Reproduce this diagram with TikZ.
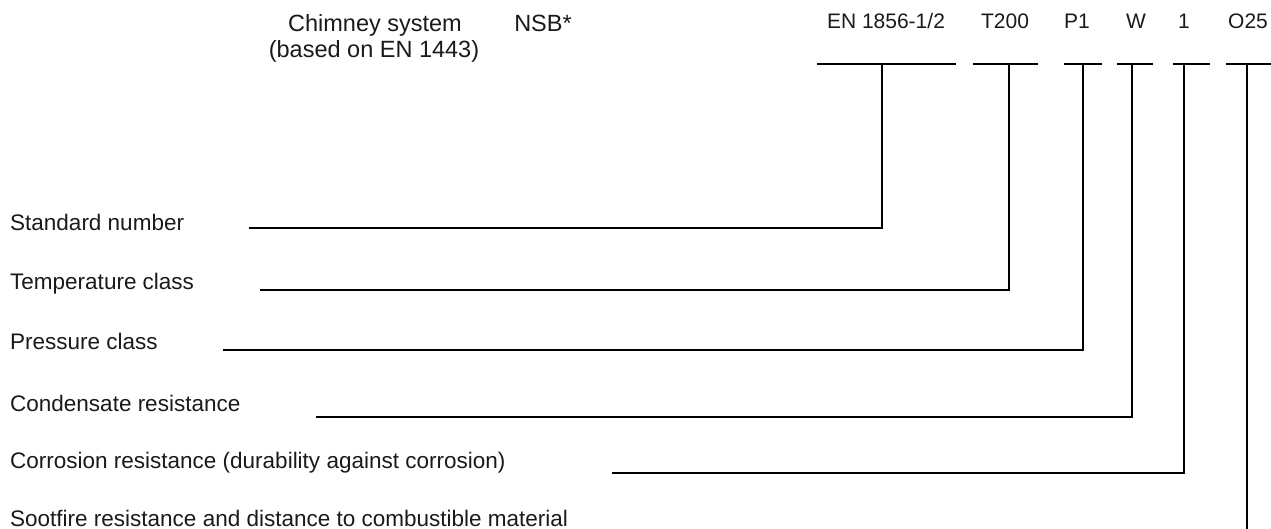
\documentclass[tikz,border=0pt]{standalone}
\usepackage{fontspec}
\setmainfont{Liberation Sans}
\definecolor{ink}{HTML}{1A1A1A}
\tikzset{
  lbl/.style={anchor=base west, inner sep=0pt, text=ink, font=\fontsize{22.5}{26}\selectfont},
  ttl/.style={anchor=base, inner sep=0pt, text=ink, font=\fontsize{23.5}{27}\selectfont},
  code/.style={anchor=base, inner sep=0pt, text=ink, font=\fontsize{21}{25}\selectfont},
  lead/.style={line width=1.8pt, draw=black, line join=miter}
}
\begin{document}
\begin{tikzpicture}[x=1pt,y=-1pt]
\useasboundingbox (0,0) rectangle (1271,529);
% title
\node[ttl] (chim1) at (375,32) {Chimney system};
\node[ttl] (chim2) at (374,58) {(based on EN 1443)};
\node[ttl] (nsb) at (543,32) {NSB*};
% codes
\node[code] (en) at (886,29) {EN 1856-1/2};
\node[code] (t) at (1005,29) {T200};
\node[code] (p) at (1077,29) {P1};
\node[code] (w) at (1136,29) {W};
\node[code] (one) at (1184,29) {1};
\node[code] (o) at (1248,29) {O25};
% bars
\draw[lead] (817,64) -- (956,64);
\draw[lead] (973,64) -- (1038,64);
\draw[lead] (1064,64) -- (1102,64);
\draw[lead] (1117,64) -- (1153,64);
\draw[lead] (1173,64) -- (1210,64);
\draw[lead] (1226,64) -- (1271,64);
\coordinate (enb) at (882,64);
\coordinate (tb) at (1009,64);
\coordinate (pb) at (1083,64);
\coordinate (wb) at (1132,64);
\coordinate (oneb) at (1184,64);
\coordinate (ob) at (1247,64);
% labels
\node[lbl] (l1) at (10,231) {Standard number};
\node[lbl] (l2) at (10,289) {Temperature class};
\node[lbl] (l3) at (10,349) {Pressure class};
\node[lbl] (l4) at (10,411) {Condensate resistance};
\node[lbl] (l5) at (10,468) {Corrosion resistance (durability against corrosion)};
\node[lbl] (l6) at (10,526) {Sootfire resistance and distance to combustible material};
% line starts
\coordinate (s1) at (249,228);
\coordinate (s2) at (260,290);
\coordinate (s3) at (223,350);
\coordinate (s4) at (316,417);
\coordinate (s5) at (612,473);
\coordinate (s6) at (1247,529);
% connectors
\draw[lead] (enb) |- (s1);
\draw[lead] (tb) |- (s2);
\draw[lead] (pb) |- (s3);
\draw[lead] (wb) |- (s4);
\draw[lead] (oneb) |- (s5);
\draw[lead] (ob) -- (s6);
\end{tikzpicture}
\end{document}
